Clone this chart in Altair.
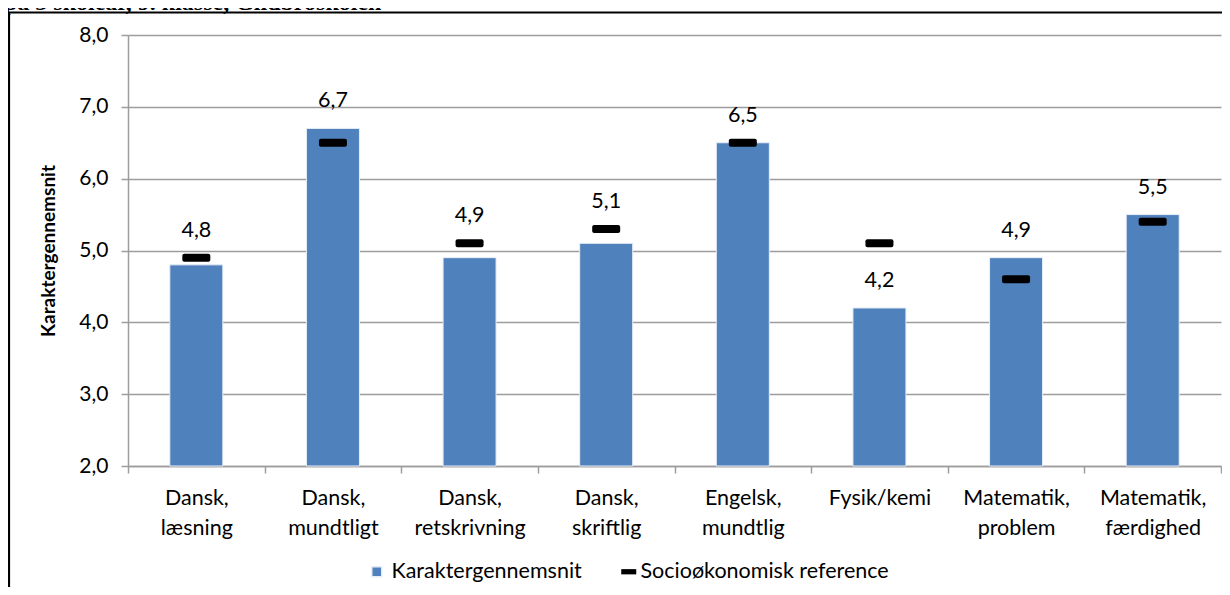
import altair as alt
import pandas as pd

categories = ["Dansk, læsning", "Dansk, mundtligt", "Dansk, retskrivning", "Dansk, skriftlig",
              "Engelsk, mundtlig", "Fysik/kemi", "Matematik, problem", "Matematik, færdighed"]
karakter = [4.8, 6.7, 4.9, 5.1, 6.5, 4.2, 4.9, 5.5]
reference = [4.9, 6.5, 5.1, 5.3, 6.5, 5.1, 4.6, 5.4]
y_ticks = [2, 3, 4, 5, 6, 7, 8]
title_text = "på 3 skoleår, 9. klasse, Glidbroskolen"
series_names = ["Karaktergennemsnit", "Socioøkonomisk reference"]

df = pd.DataFrame({"fag": categories, "karakter": karakter, "reference": reference})

FONT = "Lato"
GRAY = "#9d9d9d"
W, H = 1093, 431

x_enc = alt.X("fag:N", sort=categories, title=None,
              scale=alt.Scale(paddingInner=0, paddingOuter=0),
              axis=alt.Axis(labelAngle=0, labelExpr="split(datum.label, ' ')",
                            labelLineHeight=30, tickBand="extent", tickSize=7,
                            tickColor=GRAY, domainColor=GRAY, domainWidth=1.5,
                            tickWidth=1.5, labelPadding=14, labelFontSize=21.5))
y_scale = alt.Scale(domain=[2, 8], nice=False, zero=False)
y_axis = alt.Axis(values=y_ticks, labelExpr="replace(format(datum.value, '.1f'), '.', ',')",
                  title="Karaktergennemsnit", titleFontWeight="bold", titleFontSize=19,
                  titleX=-80, titleY=H / 2, titleAnchor="middle", titleBaseline="middle",
                  tickSize=7, tickColor=GRAY, tickWidth=1.5, domainColor=GRAY, domainWidth=1.5,
                  gridColor=GRAY, gridWidth=1.5, labelPadding=13, labelFontSize=21)

base = alt.Chart(df)

bars = base.mark_bar(size=53, color="#4F81BD", stroke="#e8eef6", strokeWidth=1).transform_calculate(
    serie="'" + series_names[0] + "'"
).encode(
    x=x_enc,
    y=alt.Y("karakter:Q", scale=y_scale, axis=y_axis),
    y2=alt.datum(2),
    color=alt.Color("serie:N", scale=alt.Scale(range=["#4F81BD"]),
                    legend=alt.Legend(title=None, orient="none", legendX=238, legendY=526,
                                      symbolType="square", symbolSize=100, labelFontSize=21.5,
                                      labelOffset=4, labelFont=FONT, labelLimit=0,
                                      symbolOpacity=1)),
)

ticks = base.mark_tick(thickness=8, size=28, color="black", cornerRadius=2, opacity=1).transform_calculate(
    serie2="'" + series_names[1] + "'"
).encode(
    x=alt.X("fag:N", sort=categories),
    y=alt.Y("reference:Q"),
    color=alt.Color("serie2:N", scale=alt.Scale(range=["black"]),
                    legend=alt.Legend(title=None, orient="none", legendX=490, legendY=526,
                                      symbolType="M-1,-0.35L1,-0.35L1,0.35L-1,0.35Z",
                                      symbolSize=225, symbolStrokeWidth=0,
                                      symbolFillColor="black", symbolOpacity=1,
                                      labelFontSize=21.5, labelOffset=1, labelFont=FONT,
                                      labelLimit=0)),
)

labels = base.mark_text(baseline="bottom", dy=-16, fontSize=21.5, font=FONT, color="black").transform_calculate(
    lab="replace(format(datum.karakter, '.1f'), '.', ',')",
    ly="(datum.reference > datum.karakter && datum.reference - datum.karakter < 0.5) ? datum.reference : datum.karakter",
).encode(
    x=alt.X("fag:N", sort=categories),
    y=alt.Y("ly:Q"),
    text="lab:N",
)

frame = alt.Chart(pd.DataFrame({"a": [0]})).mark_rect(
    fill=None, stroke="black", strokeWidth=2.2
).encode(x=alt.value(-119), x2=alt.value(W + 300), y=alt.value(-22.5), y2=alt.value(H + 300))

title = alt.Chart(pd.DataFrame({"t": [title_text]})).mark_text(
    align="left", baseline="alphabetic", font="Liberation Serif", fontWeight="bold", fontSize=24,
    color="black"
).encode(x=alt.value(-124), y=alt.value(-25), text="t:N")

chart = alt.layer(frame, bars, ticks, labels, title).resolve_scale(
    color="independent"
).resolve_legend(color="independent").properties(
    width=W, height=H,
    autosize=alt.AutoSizeParams(type="none"),
    padding={"left": 120, "top": 27, "right": 1, "bottom": 121},
).configure_view(stroke=None).configure_axis(
    labelFont=FONT, titleFont=FONT, labelColor="black", titleColor="black"
).configure_legend(labelColor="black")

chart.save("out.html", embed_options={"renderer": "svg", "actions": False})
